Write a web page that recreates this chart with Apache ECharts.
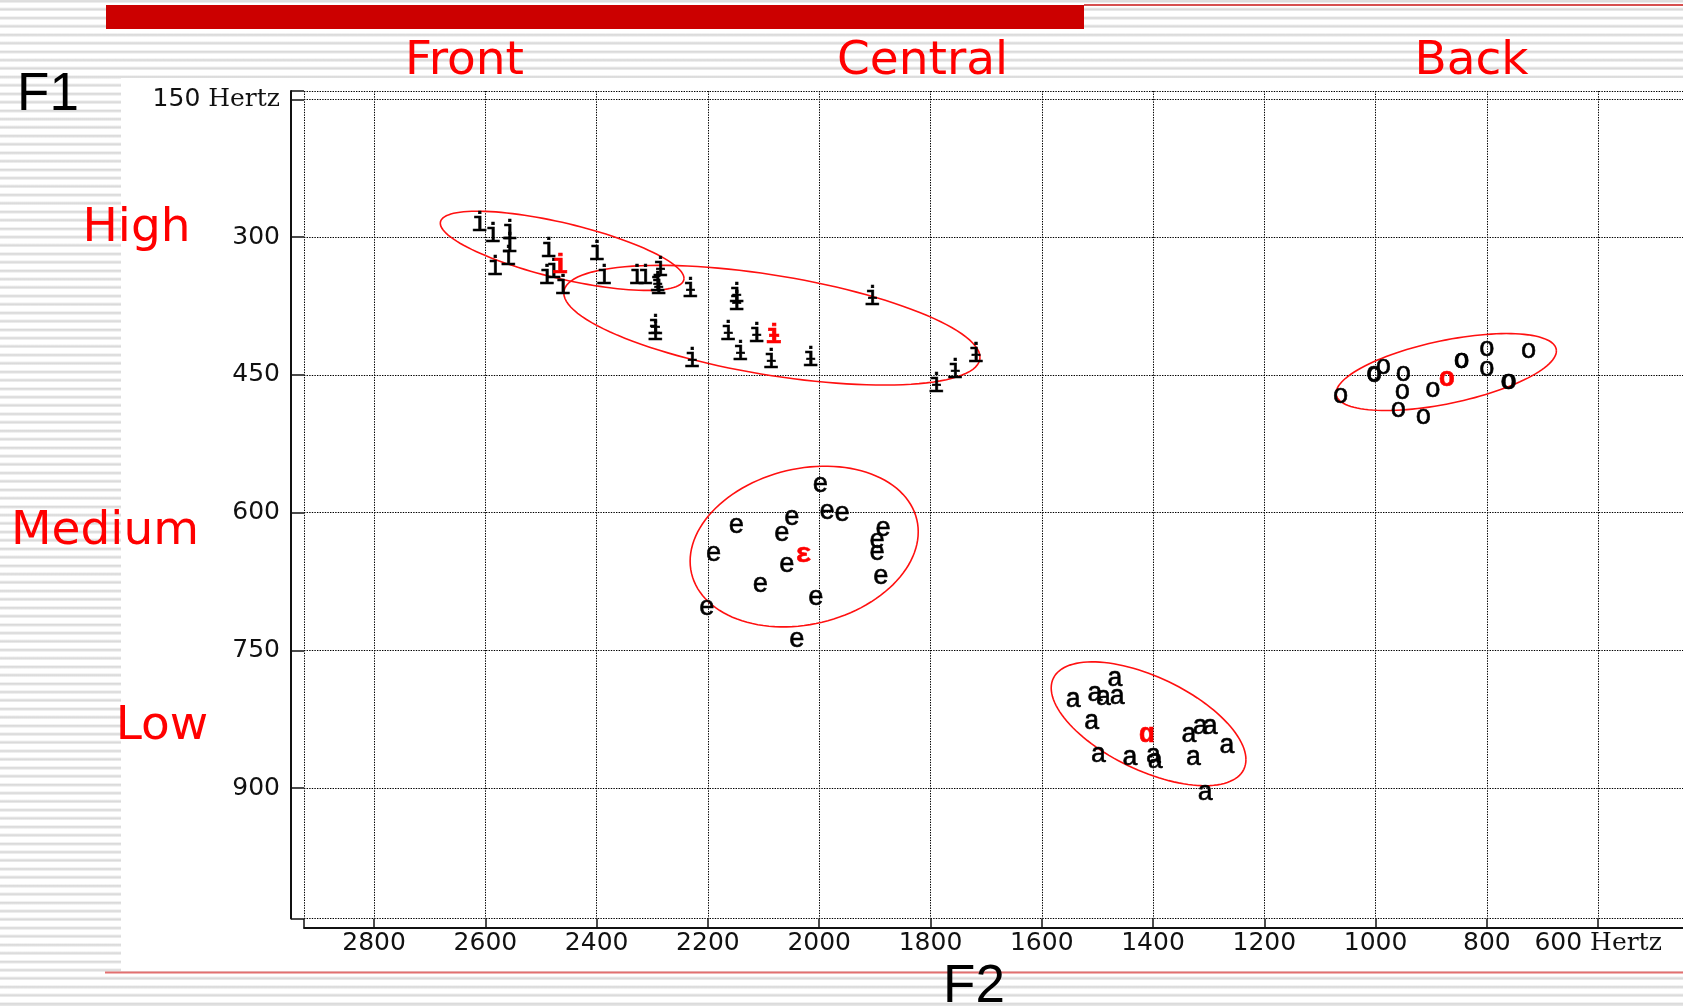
<!DOCTYPE html>
<html>
<head>
<meta charset="utf-8">
<script src="https://cdn.jsdelivr.net/npm/echarts@6/dist/echarts.min.js"></script>
<style>
  html, body { margin: 0; padding: 0; width: 1683px; height: 1006px; overflow: hidden; }
  body {
    background-color: #fff;
    background-image: repeating-linear-gradient(to bottom,
      #ececec 0px, #dadada 0.9px, #dadada 2.1px, #ececec 3px, #fff 3px, #fff 8.426px);
    background-position: 0 -0.4px;
  }
  #chart { width: 1720px; height: 1006px; }
</style>
</head>
<body>
<div id="chart"></div>
<script>
// Vowel tokens plotted as [F2 (Hz), F1 (Hz)]
const highFrontI = [
  [2611, 282], [2587, 294], [2557, 291], [2557, 305], [2559, 319], [2583, 330],
  [2487, 311], [2490, 340], [2478, 334], [2461, 351], [2400, 314], [2387, 340],
  [2328, 340], [2313, 340]
];
const centralBarredI = [
  [2286, 331], [2289, 351], [2291, 348], [2232, 354], [2295, 395], [2295, 401],
  [2149, 360], [2149, 368], [2164, 401], [2113, 403], [2142, 423], [2087, 432],
  [2016, 429], [1905, 363], [2229, 430], [1719, 425], [1756, 442], [1790, 458]
];
const midFrontE = [
  [1998, 570], [1986, 599], [1959, 601], [2149, 614], [2049, 606], [2067, 623],
  [1885, 618], [1896, 631], [1896, 644], [1889, 670], [2190, 645], [2058, 657],
  [2106, 679], [2006, 693], [2202, 704], [2040, 739]
];
const lowA = [
  [1468, 781], [1543, 804], [1504, 797], [1489, 802], [1464, 801], [1510, 828],
  [1335, 842], [1315, 833], [1297, 833], [1267, 854], [1498, 864], [1441, 867],
  [1399, 865], [1396, 870], [1327, 867], [1306, 905]
];
const backO = [
  [986, 441], [1002, 450], [1003, 449], [950, 449], [1063, 473], [952, 469],
  [959, 488], [914, 496], [897, 466], [845, 435], [846, 435], [800, 422],
  [800, 443], [760, 458], [762, 458], [725, 424]
];
// Group means
const meanI = [[2466, 329]];
const meanBarredI = [[2082, 405]];
const meanE = [[2028, 646]];
const meanA = [[1411, 842]];
const meanO = [[872, 455]];

// Dispersion ellipses: centre [F2, F1], first half-axis [dF2, dF1], second half-axis dF1
const ellipseCenters = [[2462, 315], [2085, 396], [2027, 637], [1408, 830], [873, 447]];
const ellipseAxisU = [[-219, 30], [-374, 35], [-205, -16], [-175, 39], [-198, -23]];
const ellipseAxisV = [31, 55, 86, 55, 35];

// Axis ranges and tick labels
const f2Range = [400, 2926];
const f1Range = [141, 1042];
const f2Step = 200;
const f1Step = 150;
const hertzTicks = { f1: 150, f2: 600 };
const unitLabel = 'Hertz';

// Region labels
const backnessLabels = ['Front', 'Central', 'Back'];
const heightLabels = ['High', 'Medium', 'Low'];
const axisTitles = ['F1', 'F2'];

const chart = echarts.init(document.getElementById('chart'), null, { renderer: 'canvas' });

function glyphSeries(name, data, glyph, color, weight, dy) {
  return {
    type: 'custom',
    name: name,
    coordinateSystem: 'cartesian2d',
    encode: { x: 0, y: 1 },
    data: data,
    z: 5,
    clip: true,
    renderItem: function (params, api) {
      const p = api.coord([api.value(0), api.value(1)]);
      return {
        type: 'text',
        x: p[0],
        y: p[1] + dy,
        style: {
          text: glyph,
          font: weight + ' 27px "Liberation Mono", "DejaVu Sans Mono", monospace',
          fill: color,
          stroke: color,
          lineWidth: 0.6,
          align: 'center',
          verticalAlign: 'middle',
          textAlign: 'center',
          textVerticalAlign: 'middle'
        }
      };
    }
  };
}

const ellipseData = ellipseCenters.map(function (c, i) {
  return [c[0], c[1], ellipseAxisU[i][0], ellipseAxisU[i][1], ellipseAxisV[i]];
});

const ellipseSeries = {
  type: 'custom',
  name: 'ellipses',
  coordinateSystem: 'cartesian2d',
  encode: { x: 0, y: 1 },
  data: ellipseData,
  z: 4,
  clip: true,
  renderItem: function (params, api) {
    const cx = api.value(0), cy = api.value(1);
    const ux = api.value(2), uy = api.value(3), vy = api.value(4);
    const pts = [];
    const n = 120;
    for (let k = 0; k <= n; k++) {
      const t = (k / n) * Math.PI * 2;
      pts.push(api.coord([cx + ux * Math.cos(t), cy + uy * Math.cos(t) + vy * Math.sin(t)]));
    }
    return {
      type: 'polyline',
      shape: { points: pts },
      style: { stroke: '#ff1010', lineWidth: 1.6, fill: null }
    };
  }
};

const labelRich = {
  v: { fontFamily: '"DejaVu Sans"', fontSize: 25, color: '#111' },
  h: { fontFamily: '"DejaVu Serif"', fontSize: 25, color: '#111' }
};

function redText(text, x, y) {
  return {
    type: 'text', z: 20,
    style: {
      text: text, x: x, y: y, fill: '#ff0000',
      font: '47px "DejaVu Sans"',
      align: 'center', verticalAlign: 'middle',
      textAlign: 'center', textVerticalAlign: 'middle'
    }
  };
}
function blackTitle(text, x, y) {
  return {
    type: 'text', z: 20,
    style: {
      text: text, x: x, y: y, fill: '#000',
      font: '53px "Liberation Sans"',
      align: 'center', verticalAlign: 'middle',
      textAlign: 'center', textVerticalAlign: 'middle'
    }
  };
}

const gridLineStyle = { color: '#000', width: 1, type: [1.4, 1.2] };

const option = {
  backgroundColor: 'transparent',
  animation: false,
  grid: {
    left: 304, top: 91, width: 1405.4, height: 827.5,
    containLabel: false, outerBoundsMode: 'none', show: false
  },
  xAxis: {
    type: 'value',
    inverse: true,
    min: f2Range[0], max: f2Range[1], interval: f2Step,
    position: 'bottom',
    offset: 9,
    axisLine: { show: true, onZero: false, lineStyle: { color: '#111', width: 2 } },
    axisTick: { show: true, inside: true, length: 9, lineStyle: { color: '#111', width: 1.5 } },
    axisLabel: {
      margin: 3,
      fontFamily: '"DejaVu Sans"', fontSize: 25, color: '#111',
      rich: labelRich,
      formatter: function (v) {
        if (v % f2Step !== 0) return '';
        return v === hertzTicks.f2 ? '{v|' + v + '} {h|' + unitLabel + '}' : '{v|' + v + '}';
      }
    },
    splitLine: { show: true, lineStyle: gridLineStyle }
  },
  yAxis: {
    type: 'value',
    inverse: true,
    min: f1Range[0], max: f1Range[1],
    minInterval: f1Step, maxInterval: f1Step, splitNumber: 6,
    position: 'left',
    offset: 13,
    axisLine: { show: true, onZero: false, lineStyle: { color: '#111', width: 2 } },
    axisTick: { show: true, inside: true, length: 13, lineStyle: { color: '#111', width: 1.5 } },
    axisLabel: {
      margin: 11,
      fontFamily: '"DejaVu Sans"', fontSize: 25, color: '#111',
      rich: labelRich,
      formatter: function (v) {
        if (v % f1Step !== 0) return '';
        return v === hertzTicks.f1 ? '{v|' + v + '} {h|' + unitLabel + '}' : '{v|' + v + '}';
      }
    },
    splitLine: { show: true, lineStyle: gridLineStyle }
  },
  graphic: [
    { type: 'rect', z: -10, shape: { x: 121, y: 78, width: 1600, height: 893 }, style: { fill: '#ffffff' } },
    { type: 'rect', z: 10, shape: { x: 106, y: 5, width: 978, height: 24 }, style: { fill: '#cc0000' } },
    { type: 'rect', z: 10, shape: { x: 1084, y: 4, width: 640, height: 2 }, style: { fill: 'rgb(214,80,80)' } },
    { type: 'rect', z: 10, shape: { x: 105, y: 971.5, width: 1620, height: 2 }, style: { fill: 'rgb(226,112,112)' } },
    redText(backnessLabels[0], 464.5, 62),
    redText(backnessLabels[1], 922.5, 62),
    redText(backnessLabels[2], 1471.5, 62),
    redText(heightLabels[0], 136.5, 228.7),
    redText(heightLabels[1], 105, 532),
    redText(heightLabels[2], 162, 727),
    blackTitle(axisTitles[0], 48, 95.5),
    blackTitle(axisTitles[1], 974, 987.5)
  ],
  series: [
    ellipseSeries,
    glyphSeries('i', highFrontI, 'i', '#000', 'normal', 3),
    glyphSeries('ɨ', centralBarredI, 'ɨ', '#000', 'normal', 3),
    glyphSeries('e', midFrontE, 'e', '#000', 'normal', 0),
    glyphSeries('a', lowA, 'a', '#000', 'normal', 0),
    glyphSeries('o', backO, 'o', '#000', 'normal', 0),
    glyphSeries('mean i', meanI, 'i', '#ff0000', 'bold', 3),
    glyphSeries('mean ɨ', meanBarredI, 'ɨ', '#ff0000', 'bold', 3),
    glyphSeries('mean ɛ', meanE, 'ɛ', '#ff0000', 'bold', 0),
    glyphSeries('mean ɑ', meanA, 'ɑ', '#ff0000', 'bold', 0),
    glyphSeries('mean o', meanO, 'o', '#ff0000', 'bold', 0)
  ]
};

chart.setOption(option);
</script>
</body>
</html>
